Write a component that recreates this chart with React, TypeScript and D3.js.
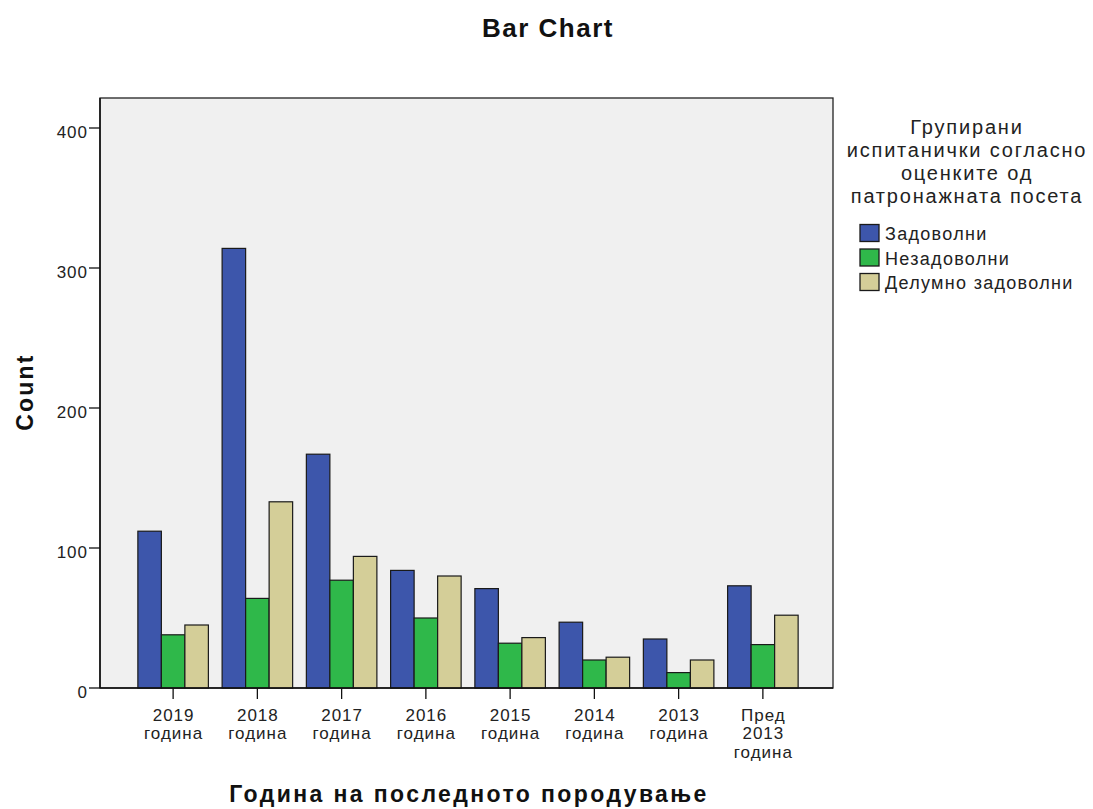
import React from "react";
import * as d3 from "d3";

const categories: string[][] = [
  ["2019", "година"],
  ["2018", "година"],
  ["2017", "година"],
  ["2016", "година"],
  ["2015", "година"],
  ["2014", "година"],
  ["2013", "година"],
  ["Пред", "2013", "година"],
];
const seriesNames = ["Задоволни", "Незадоволни", "Делумно задоволни"];
const satisfied = [112, 314, 167, 84, 71, 47, 35, 73];
const unsatisfied = [38, 64, 77, 50, 32, 20, 11, 31];
const partly = [45, 133, 94, 80, 36, 22, 20, 52];
const yTicks = [0, 100, 200, 300, 400];
const legendTitle = ["Групирани", "испитанички согласно", "оценките од", "патронажната посета"];
const colors = ["#3D56AB", "#2FB84A", "#D4CE98"];

export default function App() {
  const W = 1093, H = 809;
  const left = 100, right = 833, top = 98, bottom = 688;
  const font = "'Liberation Sans', Arial, sans-serif";
  const keys = categories.map((c) => c.join(" "));
  const series = [satisfied, unsatisfied, partly];
  const y = d3.scaleLinear().domain([0, 400]).range([bottom, 128]);
  const x0 = d3.scaleBand().domain(keys).range([131, 805]).paddingInner(0.163).paddingOuter(0.0815);
  const x1 = d3.scaleBand().domain(["0", "1", "2"]).range([0, x0.bandwidth()]);

  return (
    <svg width={W} height={H} style={{ position: "absolute", left: 0, top: 0, background: "#fff" }}>
      <rect x={0} y={0} width={W} height={H} fill="#fff" />
      <text x={548} y={37} textAnchor="middle" fontFamily={font} fontWeight="bold" fontSize={26} letterSpacing={1.5} fill="#111">Bar Chart</text>
      <rect x={left} y={top} width={right - left} height={bottom - top} fill="#F0F0F0" stroke="#222" strokeWidth={1.3} />
      {keys.map((k, i) =>
        series.map((s, j) => (
          <rect key={k + j} x={(x0(k) as number) + (x1(String(j)) as number)} y={y(s[i])}
            width={x1.bandwidth()} height={bottom - y(s[i])} fill={colors[j]} stroke="#1a1a1a" strokeWidth={1.2} />
        ))
      )}
      <line x1={left} x2={right} y1={bottom} y2={bottom} stroke="#111" strokeWidth={1.5} />
      <line x1={left} x2={left} y1={top} y2={bottom} stroke="#111" strokeWidth={1.5} />
      {yTicks.map((t) => (
        <g key={t}>
          <line x1={left - 11} x2={left} y1={y(t)} y2={y(t)} stroke="#111" strokeWidth={1.3} />
          <text x={left - 12} y={y(t) + 9.5} textAnchor="end" fontFamily={font} fontSize={17} letterSpacing={1} fill="#222">{t}</text>
        </g>
      ))}
      {keys.map((k, i) => {
        const cx = (x0(k) as number) + x0.bandwidth() / 2;
        return (
          <g key={k}>
            <line x1={cx} x2={cx} y1={bottom} y2={bottom + 11} stroke="#111" strokeWidth={1.3} />
            {categories[i].map((line, li) => (
              <text key={li} x={cx + 0.5} y={bottom + 33 + li * 18.3} textAnchor="middle" fontFamily={font} fontSize={17} letterSpacing={1} fill="#222">{line}</text>
            ))}
          </g>
        );
      })}
      <text transform={`translate(33,392) rotate(-90)`} textAnchor="middle" fontFamily={font} fontWeight="bold" fontSize={23} letterSpacing={2.2} fill="#111">Count</text>
      <text x={469} y={802} textAnchor="middle" fontFamily={font} fontWeight="bold" fontSize={23} letterSpacing={2.4} fill="#111">Година на последното породување</text>
      {legendTitle.map((l, i) => (
        <text key={l} x={967} y={133.5 + i * 23.2} textAnchor="middle" fontFamily={font} fontSize={20} letterSpacing={1.8} fill="#222">{l}</text>
      ))}
      {seriesNames.map((n, i) => (
        <g key={n}>
          <rect x={860} y={224.5 + i * 24.5} width={19} height={17} fill={colors[i]} stroke="#1a1a1a" strokeWidth={1.3} />
          <text x={885} y={240 + i * 24.5} fontFamily={font} fontSize={18} letterSpacing={1.3} fill="#222">{n}</text>
        </g>
      ))}
    </svg>
  );
}
